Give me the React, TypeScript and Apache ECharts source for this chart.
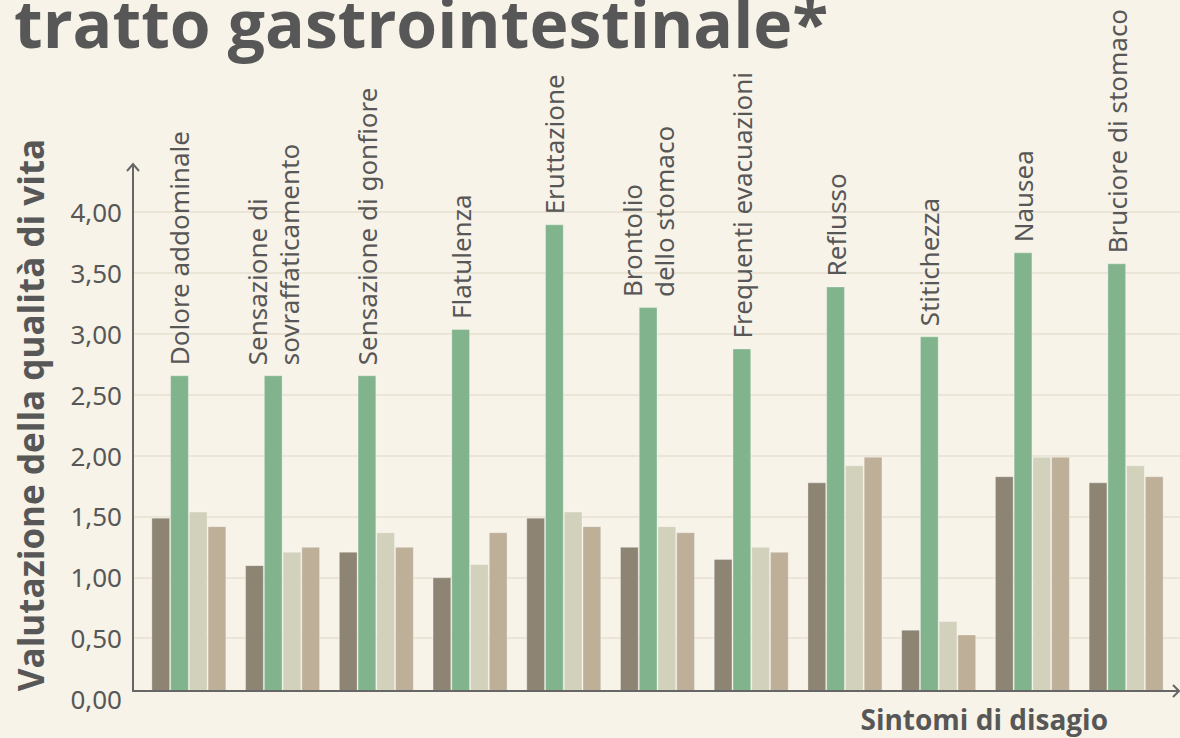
import React, { useEffect, useRef } from "react";
import * as echarts from "echarts";

const categories = [
  "Dolore addominale",
  "Sensazione di\nsovraffaticamento",
  "Sensazione di gonfiore",
  "Flatulenza",
  "Eruttazione",
  "Brontolio\ndello stomaco",
  "Frequenti evacuazioni",
  "Reflusso",
  "Stitichezza",
  "Nausea",
  "Bruciore di stomaco",
];

const serie1 = [1.49, 1.1, 1.21, 1.0, 1.49, 1.25, 1.15, 1.78, 0.57, 1.83, 1.78];
const serie2 = [2.66, 2.66, 2.66, 3.04, 3.9, 3.22, 2.88, 3.39, 2.98, 3.67, 3.58];
const serie3 = [1.54, 1.21, 1.37, 1.11, 1.54, 1.42, 1.25, 1.92, 0.64, 1.99, 1.92];
const serie4 = [1.42, 1.25, 1.25, 1.37, 1.42, 1.37, 1.21, 1.99, 0.53, 1.99, 1.83];

const seriesNames = ["Serie 1", "Serie 2", "Serie 3", "Serie 4"];
const seriesData = [serie1, serie2, serie3, serie4];
const colors = ["#8d8474", "#81b48d", "#d1d1bc", "#bdaf98"];

const title = "tratto gastrointestinale*";
const yName = "Valutazione della qualità di vita";
const xName = "Sintomi di disagio";

const BG = "#f7f3e8";
const INK = "#575757";

export default function App() {
  const ref = useRef<HTMLDivElement>(null);
  useEffect(() => {
    document.body.style.margin = "0";
    document.body.style.background = BG;
    const chart = echarts.init(ref.current!, null, { renderer: "svg" });
    const Y_MAX = 4.4;
    const axisCommon = { min: 0, max: Y_MAX, interval: 0.5 };
    chart.setOption({
      animation: false,
      backgroundColor: BG,
      grid: [
        { left: 133, right: 0, top: 163.5, bottom: 39 },
        { left: 142, right: 7, top: 163.5, bottom: 39 },
      ],
      xAxis: [
        { type: "value", gridIndex: 0, show: false, min: 0, max: 1 },
        {
          type: "category",
          gridIndex: 1,
          data: categories,
          axisLine: { show: false },
          axisTick: { show: false },
          axisLabel: { show: false },
        },
      ],
      yAxis: [
        {
          type: "value",
          gridIndex: 0,
          ...axisCommon,
          axisLine: { show: false },
          axisTick: { show: false },
          axisLabel: {
            margin: 11,
            fontSize: 26,
            color: INK,
            fontFamily: "Noto Sans",
            formatter: (v: number) =>
              Math.abs(v / 0.5 - Math.round(v / 0.5)) < 1e-6 ? v.toFixed(2).replace(".", ",") : "",
          },
          splitLine: { show: true, showMaxLine: false, showMinLine: false, lineStyle: { color: "#ebe5d7", width: 2 } },
        },
        {
          type: "value",
          gridIndex: 1,
          ...axisCommon,
          show: false,
          splitLine: { show: false },
        },
      ],
      series: seriesData.map((d, i) => ({
        type: "bar",
        name: seriesNames[i],
        xAxisIndex: 1,
        yAxisIndex: 1,
        data: d,
        barGap: "0%",
        barCategoryGap: "20%",
        itemStyle: { color: colors[i], borderColor: "rgba(255,255,255,0.3)", borderWidth: 1 },
        label:
          i === 1
            ? {
                show: true,
                position: "top",
                rotate: 90,
                align: "left",
                verticalAlign: "middle",
                distance: 10,
                formatter: "{b}",
                fontSize: 26,
                lineHeight: 32,
                color: INK,
                fontFamily: "Noto Sans",
              }
            : { show: false },
      })),
      graphic: [
        {
          type: "rect",
          z: 100,
          shape: { x: 131, y: 692, width: 1049, height: 9 },
          style: { fill: BG },
        },
        {
          type: "line",
          z: 101,
          shape: { x1: 133, y1: 692, x2: 133, y2: 164 },
          style: { stroke: "#666", lineWidth: 2 },
        },
        {
          type: "polyline",
          z: 101,
          shape: { points: [[127, 171], [133, 164], [139, 171]] },
          style: { stroke: "#666", lineWidth: 2, fill: null },
        },
        {
          type: "line",
          z: 101,
          shape: { x1: 132, y1: 691, x2: 1179, y2: 691 },
          style: { stroke: "#666", lineWidth: 2 },
        },
        {
          type: "polyline",
          z: 101,
          shape: { points: [[1173, 685], [1179, 691], [1173, 697]] },
          style: { stroke: "#666", lineWidth: 2, fill: null },
        },
        {
          type: "text",
          z: 101,
          x: 14,
          y: 55,
          style: {
            text: title,
            fill: INK,
            font: "bold 66px 'Open Sans'",
            textAlign: "left",
            textVerticalAlign: "bottom",
          },
        },
        {
          type: "text",
          z: 101,
          x: 30,
          y: 415,
          rotation: Math.PI / 2,
          style: {
            text: yName,
            fill: INK,
            font: "bold 35px 'Open Sans'",
            textAlign: "center",
            textVerticalAlign: "middle",
          },
        },
        {
          type: "text",
          z: 101,
          x: 1108,
          y: 719,
          style: {
            text: xName,
            fill: INK,
            font: "bold 28px 'Open Sans'",
            lineHeight: 28,
            textAlign: "right",
            textVerticalAlign: "middle",
          },
        },
      ],
    });
    return () => chart.dispose();
  }, []);
  return <div ref={ref} style={{ width: 1180, height: 738 }} />;
}
